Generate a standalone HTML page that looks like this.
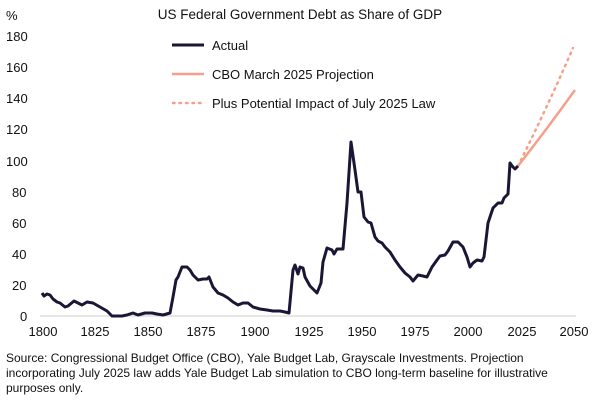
<!DOCTYPE html>
<html><head><meta charset="utf-8"><style>
body{margin:0;background:#fff;}
svg{display:block;font-family:"Liberation Sans",sans-serif;}
</style></head><body>
<svg width="600" height="400" viewBox="0 0 600 400">
<text x="300" y="19" font-size="13.5" text-anchor="middle" fill="#111">US Federal Government Debt as Share of GDP</text>
<text x="6" y="20" font-size="13" fill="#111">%</text>
<g font-size="13" fill="#111" text-anchor="start">
<text x="6" y="41">180</text><text x="6" y="72">160</text><text x="6" y="103">140</text><text x="6" y="134">120</text><text x="6" y="166">100</text>
<text x="12" y="197">80</text><text x="12" y="228">60</text><text x="12" y="259">40</text><text x="12" y="290">20</text><text x="20" y="321">0</text>
</g>
<line x1="40" y1="316" x2="576" y2="316" stroke="#ccc" stroke-width="1"/>
<g font-size="13" fill="#111" text-anchor="middle">
<text x="43" y="336">1800</text><text x="95" y="336">1825</text><text x="148" y="336">1850</text><text x="201" y="336">1875</text><text x="255" y="336">1900</text><text x="309" y="336">1925</text><text x="362" y="336">1950</text><text x="415" y="336">1975</text><text x="468" y="336">2000</text><text x="522" y="336">2025</text><text x="574" y="336">2050</text>
</g>
<path d="M518,166 Q546,110 573,48" fill="none" stroke="#f4a08a" stroke-width="2.5" stroke-dasharray="1.5 5" stroke-linecap="round"/>
<path d="M518,166 Q547,129 575,90" fill="none" stroke="#f4a08a" stroke-width="2.5"/>
<polyline fill="none" stroke="#1a1736" stroke-width="3" stroke-linejoin="round" points="42,293 44,296 47,294 50,295 53,299 57,302 60,303 65,307 68,306 74,301 78,303 82,305 87,302 93,303 100,307 107,311 112,316 122,316 127,315 133,313 138,315 145,313 152,313 157,314 163,315 170,313 173,297 176,280 178,277 182,267 187,267 190,270 193,275 198,280 203,279 207,279 209,277 213,287 218,293 223,295 228,298 233,302 238,305 243,303 248,303 253,307 260,309 267,310 273,311 280,311 285,312 289,313 293,270 295,265 298,274 300,267 303,268 305,277 310,286 317,293 321,283 323,262 327,248 332,250 334,254 337,249 343,249 347,203 351,142 355,170 358,192 361,192 364,217 368,222 371,223 375,237 378,241 382,243 385,247 390,252 395,260 400,267 405,273 410,277 413,281 418,275 423,276 427,277 432,267 437,260 440,256 445,255 448,251 453,242 458,242 463,247 467,257 470,267 473,263 477,260 482,261 484,257 488,223 493,208 498,203 502,203 504,198 508,194 510,163 513,167 515,169 518,166"/>
<line x1="172" y1="45" x2="204" y2="45" stroke="#1a1736" stroke-width="3"/>
<text x="212" y="50" font-size="13" fill="#111">Actual</text>
<line x1="172" y1="74" x2="204" y2="74" stroke="#f4a08a" stroke-width="2.5"/>
<text x="212" y="79" font-size="13" fill="#111">CBO March 2025 Projection</text>
<line x1="173" y1="103" x2="204" y2="103" stroke="#f4a08a" stroke-width="2.5" stroke-dasharray="1.5 5" stroke-linecap="round"/>
<text x="212" y="108" font-size="13" fill="#111">Plus Potential Impact of July 2025 Law</text>
<g font-size="12" fill="#111">
<text x="6" y="362">Source: Congressional Budget Office (CBO), Yale Budget Lab, Grayscale Investments. Projection</text>
<text x="6" y="377">incorporating July 2025 law adds Yale Budget Lab simulation to CBO long-term baseline for illustrative</text>
<text x="6" y="392">purposes only.</text>
</g>
</svg>
</body></html>
